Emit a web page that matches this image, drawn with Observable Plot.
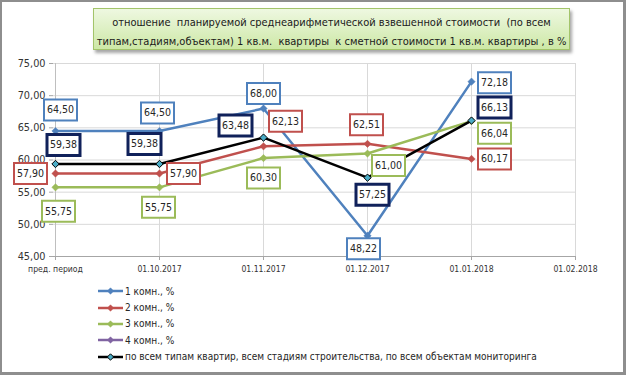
<!DOCTYPE html>
<html>
<head>
<meta charset="utf-8">
<script src="https://cdn.jsdelivr.net/npm/d3@7"></script>
<script src="https://cdn.jsdelivr.net/npm/@observablehq/plot@0.6"></script>
<style>
  html, body { margin: 0; padding: 0; background: #fff; }
  body { width: 626px; height: 375px; position: relative; overflow: hidden;
         font-family: "DejaVu Sans Condensed", "Liberation Sans", sans-serif; }
  #frame { position: absolute; left: 0; top: 0; width: 626px; height: 375px; box-sizing: border-box;
           border: 2px solid #8e8e8e; border-right-width: 3px; border-bottom-width: 3px; pointer-events: none; z-index: 10; }
  #titlewrap { position: relative; height: 55px; }
  #title { position: absolute; left: 93px; top: 8px; width: 477px; height: 42px; box-sizing: border-box;
           border: 1px solid #a3c46a; background: linear-gradient(#eef8e1, #cde8a6);
           box-shadow: 2px 3px 3px rgba(0,0,0,0.35); text-align: center; line-height: 17px;
           color: #1a1a1a; padding-top: 3px; white-space: nowrap; }
  #title span { display: inline-block; white-space: nowrap; }
  #chart svg { display: block; }
  #legend { padding-left: 98px; padding-top: 3px; color: #262626; }
  .row { display: flex; align-items: center; height: 16.4px; white-space: nowrap; }
  .row svg { margin-right: 1px; flex: none; }
</style>
</head>
<body>
<div id="titlewrap"><div id="title"><span id="t1">отношение&nbsp; планируемой среднеарифметической взвешенной стоимости&nbsp; (по всем</span><br><span id="t2">типам,стадиям,объектам) 1 кв.м.&nbsp; квартиры&nbsp; к сметной стоимости 1 кв.м. квартиры , в %</span></div></div>
<div id="chart"></div>
<div id="legend"></div>
<div id="frame"></div>
<script>
// ---- data ----
const categories = ["пред. период", "01.10.2017", "01.11.2017", "01.12.2017", "01.01.2018", "01.02.2018"];
const seriesNames = ["1 комн., %", "2 комн., %", "3 комн., %", "4 комн., %",
  "по всем типам квартир, всем стадиям строительства, по всем объектам мониторинга"];
const values1 = [64.50, 64.50, 68.00, 48.22, 72.18];
const values2 = [57.90, 57.90, 62.13, 62.51, 60.17];
const values3 = [55.75, 55.75, 60.30, 61.00, 66.04];
const values4 = [];
const valuesAll = [59.38, 59.38, 63.48, 57.25, 66.13];
const yTicks = [45, 50, 55, 60, 65, 70, 75];

// ---- styles (not data) ----
const FONT = '"DejaVu Sans Condensed", "Liberation Sans", sans-serif';
const lineColors = ["#4F81BD", "#C0504D", "#9BBB59", "#8064A2", "#000000"];
const boxColors = ["#4F81BD", "#C0504D", "#9BBB59", "#8064A2", "#10215a"];
// label offsets (px from point) per series, per point
const labelOffsets = [
  [[5, -21], [-2, -18], [0, -15], [-4, 13], [23, 1]],
  [[-25, 0], [24, 0], [22, -25], [-1, -19], [23, 0]],
  [[3, 24], [-1, 20], [0, 20], [21, 12], [23, 12]],
  [],
  [[8, -19], [-15, -20], [-28, -12], [5, 17], [23, -13]]
];

// fit a text element to a target pixel width by font size
function fitText(el, target) {
  el.style.fontSize = "20px";
  const w = el.getBoundingClientRect().width;
  el.style.fontSize = (20 * target / w).toFixed(2) + "px";
}
fitText(document.getElementById("t1"), 439);
fitText(document.getElementById("t2"), 470);

const allValues = [values1, values2, values3, values4, valuesAll];
const rows = [];
allValues.forEach((vals, i) => vals.forEach((v, j) => rows.push({cat: categories[j], v, series: seriesNames[i], si: i, pj: j})));

const fmt = v => v.toFixed(2).replace(".", ",");
const boxSymbol = (w, h) => ({
  draw(ctx) { ctx.moveTo(-w/2, -h/2); ctx.lineTo(w/2, -h/2); ctx.lineTo(w/2, h/2); ctx.lineTo(-w/2, h/2); ctx.closePath(); }
});

const marks = [
  Plot.gridY(yTicks, {stroke: "#d9d9d9", strokeOpacity: 1}),
  Plot.gridX(categories, {stroke: "#d9d9d9", strokeOpacity: 1}),
  Plot.ruleX([categories[0]], {stroke: "#bfbfbf"}),
  Plot.ruleY([45], {stroke: "#a6a6a6"}),
  Plot.axisY(yTicks, {tickFormat: fmt, tickSize: 4, tickPadding: 4, fontSize: 10.8, stroke: "#a6a6a6", fill: "#333", label: null}),
  Plot.axisX(categories, {tickSize: 4, tickPadding: 5, fontSize: 8.6, stroke: "#a6a6a6", fill: "#333", label: null}),
];

allValues.forEach((vals, i) => {
  const data = rows.filter(r => r.si === i);
  if (!data.length) return;
  marks.push(Plot.line(data, {x: "cat", y: "v", stroke: lineColors[i], strokeWidth: 2.5}));
  if (i === 4) marks.push(Plot.dot(data, {x: "cat", y: "v", symbol: "diamond2", r: 3.3, fill: "#4BACC6", stroke: "#000", strokeWidth: 1}));
  else marks.push(Plot.dot(data, {x: "cat", y: "v", symbol: "diamond2", r: 3.3, fill: lineColors[i], stroke: lineColors[i], strokeWidth: 0.5}));
});

rows.forEach(r => {
  const off = labelOffsets[r.si][r.pj];
  const navy = r.si === 4;
  marks.push(Plot.dot([r], {x: "cat", y: "v", dx: off[0], dy: off[1], symbol: boxSymbol(33, 21),
    r: 5, fill: "white", stroke: boxColors[r.si], strokeWidth: navy ? 3 : 2}));
  marks.push(Plot.text([r], {x: "cat", y: "v", dx: off[0], dy: off[1], text: d => fmt(d.v), fontSize: 10.5, fill: "#262626"}));
});

const chart = Plot.plot({
  width: 626,
  height: 225,
  marginTop: 8,
  marginBottom: 24,
  marginLeft: 53,
  marginRight: 50,
  style: {fontFamily: FONT, background: "transparent", overflow: "visible"},
  x: {type: "point", domain: categories, padding: 0, axis: null},
  y: {domain: [45, 75], axis: null},
  marks
});
document.getElementById("chart").append(chart);

// legend
const legend = d3.select("#legend");
const spans = [];
seriesNames.forEach((name, i) => {
  const row = legend.append("div").attr("class", "row");
  const s = row.append("svg").attr("width", 26).attr("height", 10);
  s.append("line").attr("x1", 0).attr("x2", 25).attr("y1", 5).attr("y2", 5).attr("stroke", lineColors[i]).attr("stroke-width", 2.5);
  s.append("path").attr("d", "M12.5,1.8L15.7,5L12.5,8.2L9.3,5Z")
    .attr("fill", i === 4 ? "#4BACC6" : lineColors[i]).attr("stroke", i === 4 ? "#000" : lineColors[i]).attr("stroke-width", i === 4 ? 1 : 0.5);
  spans.push(row.append("span").text(name).node());
});
fitText(spans[4], 412);
spans.forEach(s => s.style.fontSize = spans[4].style.fontSize);
</script>
</body>
</html>
